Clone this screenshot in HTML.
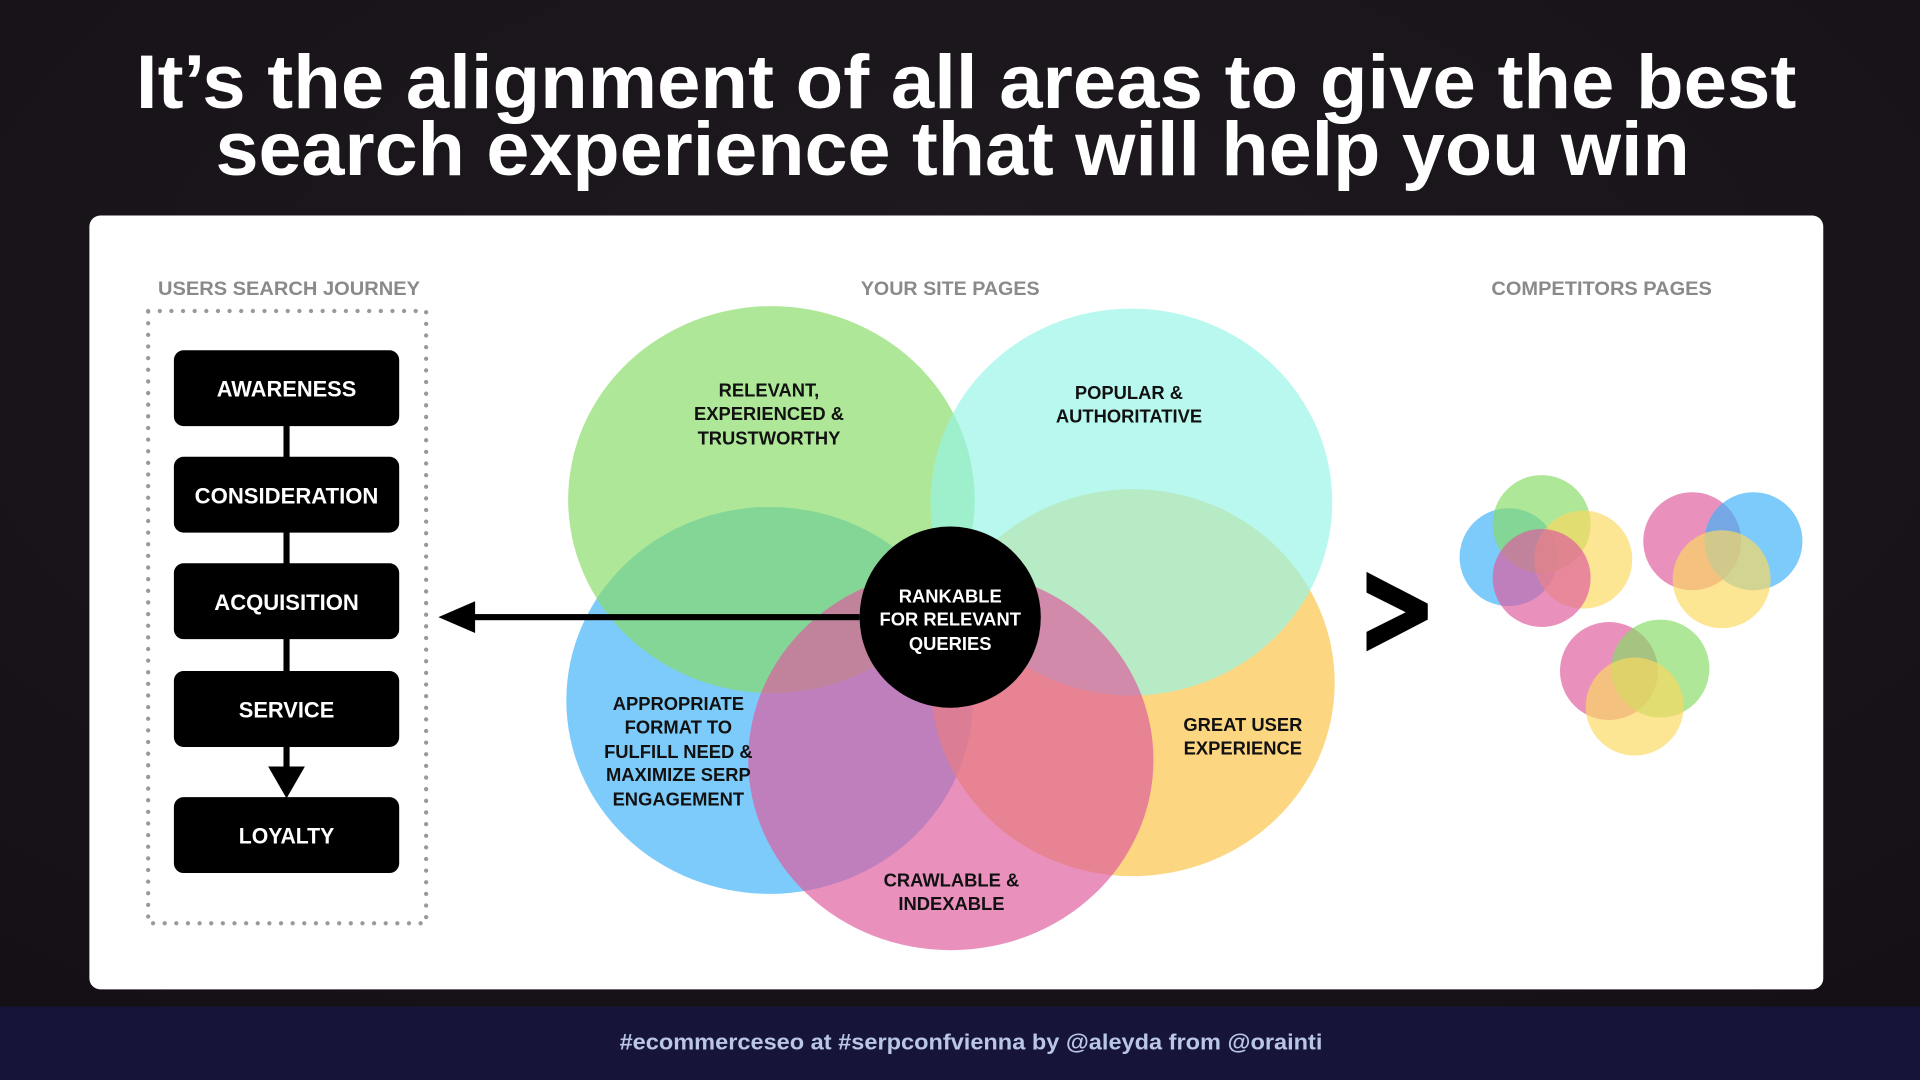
<!DOCTYPE html>
<html><head><meta charset="utf-8"><style>
html,body{margin:0;padding:0;background:#16121a;}
svg{display:block;}
text{font-family:"Liberation Sans",sans-serif;font-weight:bold;}
</style></head><body>
<svg width="1920" height="1080" viewBox="0 0 1568 882" xmlns="http://www.w3.org/2000/svg">
<defs><radialGradient id="bg" cx="0.5" cy="0.3" r="0.8"><stop offset="0" stop-color="#1e1a1f"/><stop offset="1" stop-color="#141016"/></radialGradient></defs>
<rect width="1568" height="882" fill="url(#bg)"/>
<text x="789" y="88" text-anchor="middle" font-size="62" fill="#fff" textLength="1356" lengthAdjust="spacingAndGlyphs">It’s the alignment of all areas to give the best</text>
<text x="778" y="143" text-anchor="middle" font-size="62" fill="#fff" textLength="1204" lengthAdjust="spacingAndGlyphs">search experience that will help you win</text>
<rect x="73" y="176" width="1416" height="632" rx="9" fill="#fff"/>
<rect x="0" y="822" width="1568" height="60" fill="#17143a"/>
<text x="793" y="857" text-anchor="middle" font-size="18" fill="#b9c6e4" textLength="574" lengthAdjust="spacingAndGlyphs">#ecommerceseo at #serpconfvienna by @aleyda from @orainti</text>

<text x="236" y="241" text-anchor="middle" font-size="16" fill="#8a8a8a" textLength="214" lengthAdjust="spacingAndGlyphs">USERS SEARCH JOURNEY</text>
<text x="776" y="241" text-anchor="middle" font-size="16" fill="#8a8a8a" textLength="146" lengthAdjust="spacingAndGlyphs">YOUR SITE PAGES</text>
<text x="1308" y="241" text-anchor="middle" font-size="16" fill="#8a8a8a" textLength="180" lengthAdjust="spacingAndGlyphs">COMPETITORS PAGES</text>

<rect x="121" y="254" width="227" height="500" fill="none" stroke="#999" stroke-width="3.5" stroke-dasharray="0 9.5" stroke-linecap="round"/>
<rect x="231.5" y="340" width="5" height="290" fill="#000"/>
<polygon points="219,626 249,626 234,652" fill="#000"/>
<g fill="#000">
<rect x="142" y="286" width="184" height="62" rx="8"/>
<rect x="142" y="373" width="184" height="62" rx="8"/>
<rect x="142" y="460" width="184" height="62" rx="8"/>
<rect x="142" y="548" width="184" height="62" rx="8"/>
<rect x="142" y="651" width="184" height="62" rx="8"/>
</g>
<g fill="#fff" font-size="18" text-anchor="middle">
<text x="234" y="324" textLength="114" lengthAdjust="spacingAndGlyphs">AWARENESS</text>
<text x="234" y="411" textLength="150" lengthAdjust="spacingAndGlyphs">CONSIDERATION</text>
<text x="234" y="498" textLength="118" lengthAdjust="spacingAndGlyphs">ACQUISITION</text>
<text x="234" y="586" textLength="78" lengthAdjust="spacingAndGlyphs">SERVICE</text>
<text x="234" y="689" textLength="78" lengthAdjust="spacingAndGlyphs">LOYALTY</text>
</g>

<g fill-opacity="0.68">
<ellipse cx="628.5" cy="572" rx="166" ry="158" fill="#3fb3f7"/>
<ellipse cx="925" cy="557.5" rx="165" ry="158" fill="#fbc345"/>
<ellipse cx="630" cy="408" rx="166" ry="158" fill="#86dc66"/>
<ellipse cx="924" cy="410" rx="164" ry="158" fill="#97f5e8"/>
<ellipse cx="776.5" cy="620.5" rx="165.5" ry="155.5" fill="#de5b9d"/>
</g>
<rect x="380" y="501.5" width="322" height="5" fill="#000"/>
<polygon points="358,504 388,491 388,517" fill="#000"/>
<circle cx="776" cy="504" r="74" fill="#000"/>
<g font-size="15" text-anchor="middle" fill="#fff">
<text x="776" y="492">RANKABLE</text>
<text x="776" y="511">FOR RELEVANT</text>
<text x="776" y="531">QUERIES</text>
</g>
<g font-size="15" text-anchor="middle" fill="#111">
<text x="628" y="324">RELEVANT,</text>
<text x="628" y="343">EXPERIENCED &amp;</text>
<text x="628" y="363">TRUSTWORTHY</text>
<text x="922" y="326">POPULAR &amp;</text>
<text x="922" y="345">AUTHORITATIVE</text>
<text x="554" y="580">APPROPRIATE</text>
<text x="554" y="599">FORMAT TO</text>
<text x="554" y="619">FULFILL NEED &amp;</text>
<text x="554" y="638">MAXIMIZE SERP</text>
<text x="554" y="658">ENGAGEMENT</text>
<text x="1015" y="597">GREAT USER</text>
<text x="1015" y="616">EXPERIENCE</text>
<text x="777" y="724">CRAWLABLE &amp;</text>
<text x="777" y="743">INDEXABLE</text>
</g>
<polygon points="1116,467 1166,493 1166,506 1116,532 1116,516 1148,500 1116,484" fill="#000"/>

<g fill-opacity="0.68">
<circle cx="1232" cy="455" r="40" fill="#3fb3f7"/>
<circle cx="1259" cy="428" r="40" fill="#86dc66"/>
<circle cx="1293" cy="457" r="40" fill="#fbd860"/>
<circle cx="1259" cy="472" r="40" fill="#de5b9d"/>
<circle cx="1382" cy="442" r="40" fill="#de5b9d"/>
<circle cx="1432" cy="442" r="40" fill="#3fb3f7"/>
<circle cx="1406" cy="473" r="40" fill="#fbd860"/>
<circle cx="1314" cy="548" r="40" fill="#de5b9d"/>
<circle cx="1356" cy="546" r="40" fill="#86dc66"/>
<circle cx="1335" cy="577" r="40" fill="#fbd860"/>
</g>
</svg>
</body></html>
